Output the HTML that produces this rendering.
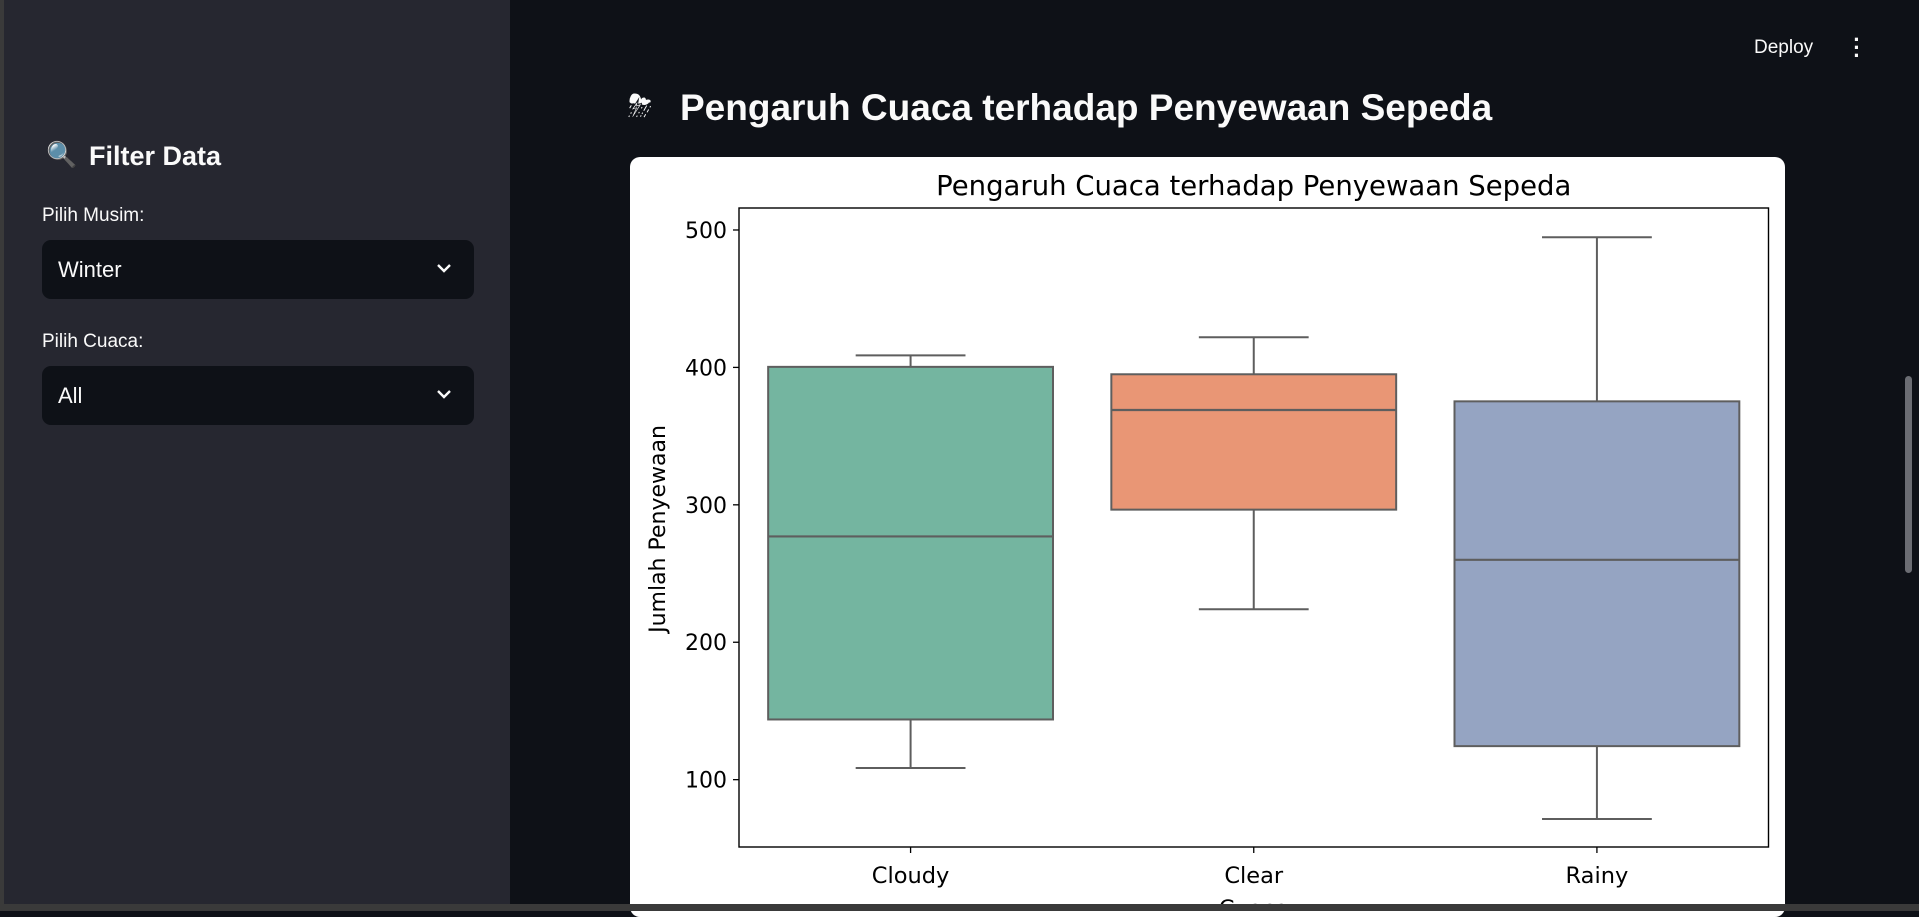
<!DOCTYPE html>
<html><head><meta charset="utf-8">
<style>
html,body{margin:0;padding:0;width:1919px;height:911px;overflow:hidden;background:#0e1117;font-family:"Liberation Sans",sans-serif;}
.abs{position:absolute;}
#sidebar{left:0;top:0;width:510px;height:911px;background:#262730;}
.sel{left:42px;width:432px;height:59px;background:#0e1117;border-radius:9px;}
.sel span{position:absolute;left:16px;top:50%;transform:translateY(-50%);color:#fafafa;font-size:22px;}
.sel svg{position:absolute;right:22px;top:22px;}
.lbl{color:#fafafa;font-size:19px;}
</style></head>
<body>
<div id="sidebar" class="abs">
  <div class="abs" style="left:0;top:0;width:4px;height:911px;background:#3a3a3a"></div>
  <div class="abs" style="left:46px;top:141px;font-size:25px;">🔍</div>
  <div class="abs" style="left:89px;top:141px;color:#fafafa;font-size:27px;font-weight:bold;">Filter Data</div>
  <div class="abs lbl" style="left:42px;top:205px;">Pilih Musim:</div>
  <div class="abs sel" style="top:240px;"><span>Winter</span>
    <svg width="16" height="12" viewBox="0 0 16 12"><path d="M2 3 L8 9 L14 3" stroke="#fafafa" stroke-width="2.4" fill="none"/></svg></div>
  <div class="abs lbl" style="left:42px;top:331px;">Pilih Cuaca:</div>
  <div class="abs sel" style="top:366px;"><span>All</span>
    <svg width="16" height="12" viewBox="0 0 16 12"><path d="M2 3 L8 9 L14 3" stroke="#fafafa" stroke-width="2.4" fill="none"/></svg></div>
</div>
<div class="abs" style="left:1754px;top:37px;color:#fafafa;font-size:19px;">Deploy</div>
<div class="abs" style="left:1852px;top:36px;color:#fafafa;font-size:22px;font-weight:bold;line-height:8px;width:10px;text-align:center">·<br>·<br>·</div>
<div class="abs" style="left:628px;top:90px;font-size:30px;color:#fafafa">⛈</div>
<div class="abs" style="left:680px;top:87px;color:#fafafa;font-size:37px;font-weight:bold;">Pengaruh Cuaca terhadap Penyewaan Sepeda</div>
<div class="abs" style="left:1905px;top:376px;width:7px;height:197px;background:#6b6d73;border-radius:4px"></div>
<div class="abs" style="left:630px;top:157px;width:1155px;height:760px;background:#fff;border-radius:10px"></div>
<svg id="chart" class="abs" style="left:0;top:0" width="1919" height="911"></svg>
<div class="abs" style="left:0;top:904px;width:1919px;height:7px;background:#3a3a3a"></div>
<script>
const categories = ["Cloudy","Clear","Rainy"];
const whiskerLow = [108.5,224,71.4];
const q1 = [143.8,296.5,124.4];
const median = [277,369,260];
const q3 = [400.4,395,375.3];
const whiskerHigh = [408.8,421.9,494.7];
const yTicks = [100,200,300,400,500];
const colors = ["#74b5a0","#e99675","#95a4c2"];
const NS="http://www.w3.org/2000/svg";
const svg=document.getElementById('chart');
const L=739,R=1768.5,T=208,B=847,yMin=51,yMax=516;
const y=v=>B-(v-yMin)/(yMax-yMin)*(B-T);
const step=(R-L)/categories.length;
const x=i=>L+step*(i+0.5);
const FF='DejaVu Sans, sans-serif';
function mk(t,a){const e=document.createElementNS(NS,t);for(const k in a)e.setAttribute(k,a[k]);svg.appendChild(e);return e;}
let e;
e=mk('text',{x:(L+R)/2,y:195,'text-anchor':'middle','font-size':27.5,'font-family':FF,fill:'#000'});e.textContent='Pengaruh Cuaca terhadap Penyewaan Sepeda';


yTicks.forEach(v=>{
 e=mk('line',{x1:L-6,x2:L,y1:y(v),y2:y(v),stroke:'#000','stroke-width':1.3});
 
 
 e=mk('text',{x:L-12,y:y(v)+8,'text-anchor':'end','font-size':22,'font-family':FF,fill:'#000'});e.textContent=v;
 
 
});
e=mk('text',{x:0,y:0,transform:'translate(665,529) rotate(-90)','text-anchor':'middle','font-size':22,'font-family':FF,fill:'#000'});e.textContent='Jumlah Penyewaan';


const bw=step*0.83,cw=step*0.32,gc='#5e5e5e';
categories.forEach((c,i)=>{
 const cx=x(i);
 e=mk('line',{x1:cx,x2:cx,y1:y(q3[i]),y2:y(whiskerHigh[i]),stroke:gc,'stroke-width':2});
 
 
 e=mk('line',{x1:cx,x2:cx,y1:y(q1[i]),y2:y(whiskerLow[i]),stroke:gc,'stroke-width':2});
 
 
 e=mk('line',{x1:cx-cw/2,x2:cx+cw/2,y1:y(whiskerHigh[i]),y2:y(whiskerHigh[i]),stroke:gc,'stroke-width':2});
 
 
 e=mk('line',{x1:cx-cw/2,x2:cx+cw/2,y1:y(whiskerLow[i]),y2:y(whiskerLow[i]),stroke:gc,'stroke-width':2});
 
 
 e=mk('rect',{x:cx-bw/2,y:y(q3[i]),width:bw,height:y(q1[i])-y(q3[i]),fill:colors[i],stroke:gc,'stroke-width':2});
 
 
 e=mk('line',{x1:cx-bw/2,x2:cx+bw/2,y1:y(median[i]),y2:y(median[i]),stroke:gc,'stroke-width':2.2});
 
 
 e=mk('line',{x1:cx,x2:cx,y1:B,y2:B+6,stroke:'#000','stroke-width':1.3});
 
 
 e=mk('text',{x:cx,y:883,'text-anchor':'middle','font-size':22.5,'font-family':FF,fill:'#000'});e.textContent=c;
 
 
});
e=mk('rect',{x:L,y:T,width:R-L,height:B-T,fill:'none',stroke:'#000','stroke-width':1.4});


e=mk('text',{x:(L+R)/2,y:916,'text-anchor':'middle','font-size':22.5,'font-family':FF,fill:'#000'});e.textContent='Cuaca';


</script>
</body></html>
